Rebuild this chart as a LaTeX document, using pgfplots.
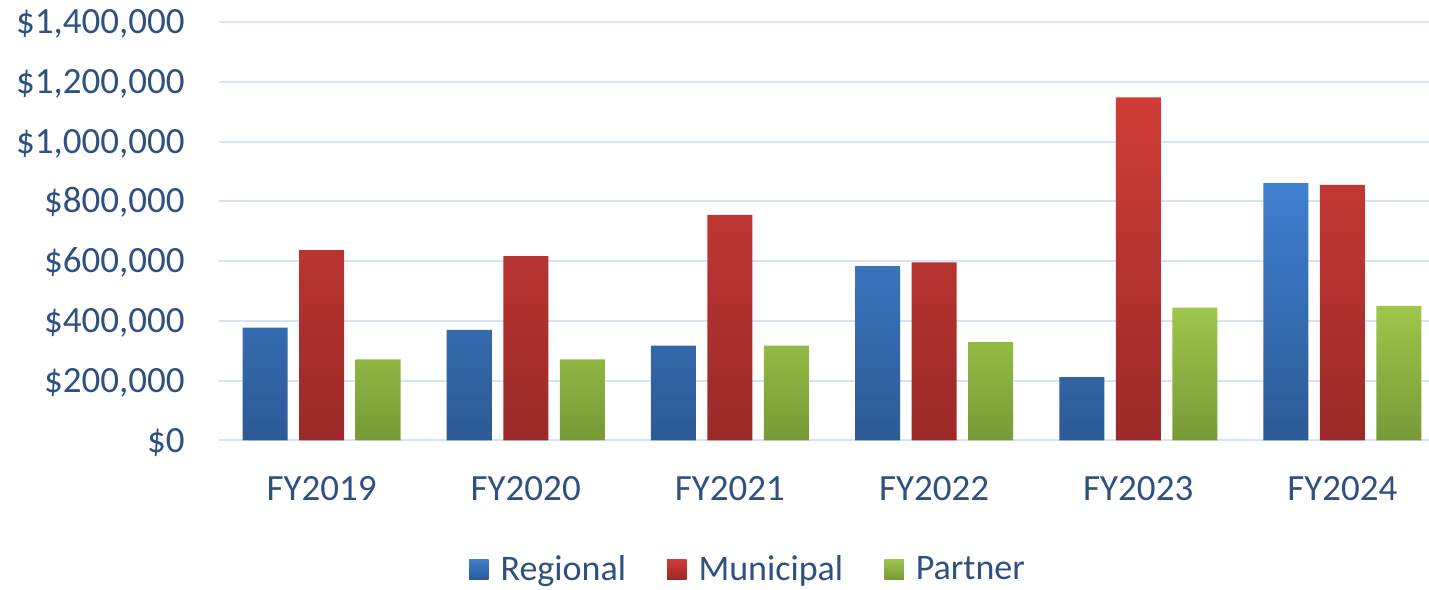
\documentclass[border=0pt]{standalone}
\usepackage{fontspec}
\setmainfont{Carlito}
\usepackage{pgfplots}
\pgfplotsset{compat=1.18}
\definecolor{txt}{HTML}{2F5080}
\definecolor{gridc}{HTML}{D6E4F4}
\definecolor{blueT}{HTML}{3F80D0}
\definecolor{blueB}{HTML}{2C5A95}
\definecolor{redT}{HTML}{D03C37}
\definecolor{redB}{HTML}{9A2A28}
\definecolor{greenT}{HTML}{9EC64B}
\definecolor{greenB}{HTML}{779A37}
\begin{document}
\begin{tikzpicture}
\useasboundingbox (-109.75pt,-74.4pt) rectangle (604.75pt,220.2pt);
\begin{axis}[
  at={(0,0)}, anchor=south west,
  scale only axis, width=612.5pt, height=209.2pt,
  xmin=-0.5, xmax=5.5, ymin=0, ymax=1400000,
  axis line style={draw=none},
  major tick length=0pt,
  ybar, bar width=22.5pt,
  xtick={0,1,2,3,4,5},
  xticklabels={FY2019,FY2020,FY2021,FY2022,FY2023,FY2024},
  ytick={0,200000,400000,600000,800000,1000000,1200000,1400000},
  yticklabels={{\$0},{\$200,000},{\$400,000},{\$600,000},{\$800,000},{\$1,000,000},{\$1,200,000},{\$1,400,000}},
  scaled y ticks=false,
  ymajorgrids, grid style={gridc, line width=1pt},
  tick label style={font=\fontsize{18.5}{21}\selectfont, text=txt},
  xticklabel style={anchor=base, yshift=-30pt},
  yticklabel style={anchor=base east, inner sep=0pt, xshift=-17.25pt, yshift=-5.8pt},
  legend style={at={(0.4306,-0.3084)}, anchor=center, draw=none, fill=none,
    legend columns=3, font=\fontsize{18}{21}\selectfont, text=txt,
    nodes={inner xsep=0pt},
    /tikz/every even column/.append style={column sep=20.5pt}},
  legend image code/.code={\path[#1, draw=none] (0pt,-5pt) rectangle (9.75pt,5pt);
    \path (9.75pt,0pt) -- (15.75pt,0pt);},
]
\addplot[draw=none, top color=blueT, bottom color=blueB, bar shift=-28.25pt]
  coordinates {(0,377000) (1,370000) (2,317000) (3,583000) (4,212000) (5,861000)};
\addlegendentry{Regional}
\addplot[draw=none, top color=redT, bottom color=redB, bar shift=0pt]
  coordinates {(0,637000) (1,617000) (2,755000) (3,596000) (4,1148000) (5,855000)};
\addlegendentry{Municipal}
\addplot[draw=none, top color=greenT, bottom color=greenB, bar shift=28.25pt]
  coordinates {(0,271000) (1,271000) (2,317000) (3,330000) (4,444000) (5,450000)};
\addlegendentry{Partner}
\end{axis}
\end{tikzpicture}
\end{document}
